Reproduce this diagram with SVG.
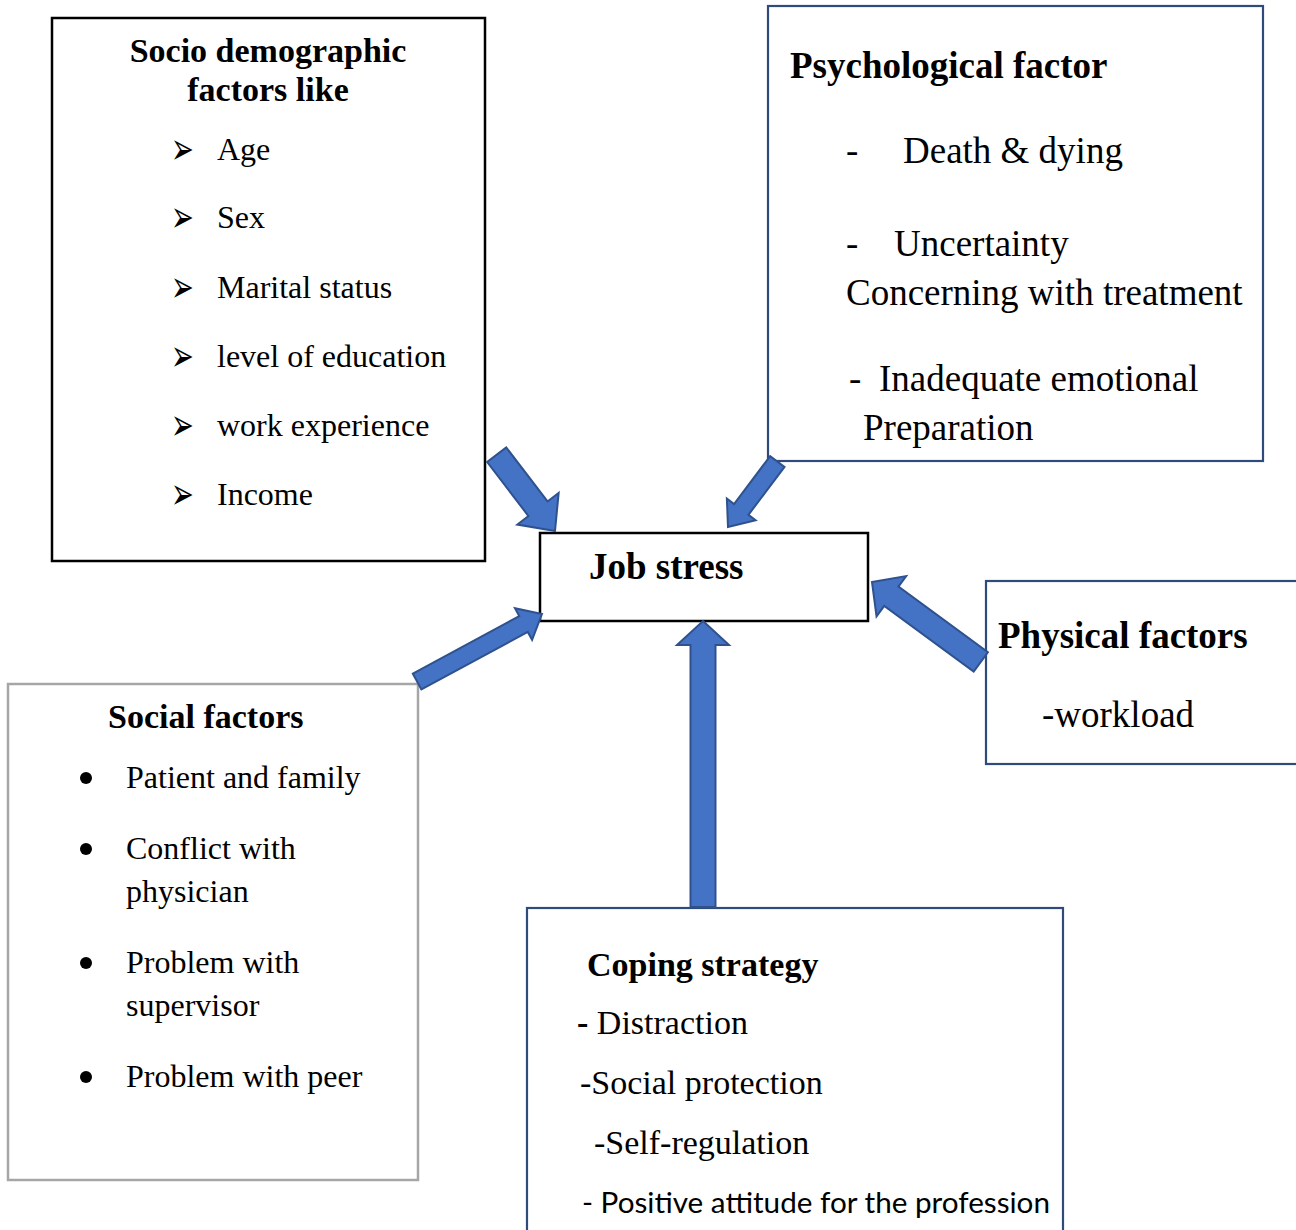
<svg xmlns="http://www.w3.org/2000/svg" width="1296" height="1230" viewBox="0 0 1296 1230">
  <style>
    .box { fill: #ffffff; }
    .black { stroke: #000000; stroke-width: 2.5; }
    .blue { stroke: #2F4B7C; stroke-width: 2.2; }
    .grey { stroke: #A6A6A6; stroke-width: 2.5; }
    .t { font-family: "Liberation Serif", "Times New Roman", serif; fill: #000000; }
    .b34 { font-size: 34px; font-weight: bold; }
    .b37 { font-size: 37px; font-weight: bold; }
    .r32 { font-size: 32px; }
    .r34 { font-size: 34px; }
    .r37 { font-size: 37px; }
    .mark { font-family: "DejaVu Sans", sans-serif; font-size: 32px; fill: #000000; }
    .dot { fill: #000000; }
    .sans { font-family: Lato, "Open Sans", sans-serif; font-size: 28px; fill: #000000; }
    .arrow { fill: #4472C4; stroke: #2F528F; stroke-width: 2; stroke-linejoin: miter; }
  </style>

  <rect width="1296" height="1230" fill="#ffffff"/>

  <!-- Socio-demographic factors -->
  <g id="socio-demographic">
    <rect class="box black" x="52" y="18" width="433" height="543"/>
    <text class="t b34" x="268" y="62" text-anchor="middle">Socio demographic</text>
    <text class="t b34" x="268" y="101" text-anchor="middle">factors like</text>
    <!-- list markers, stretched a little taller than the font draws them -->
    <g class="mark">
      <text transform="translate(171,164) scale(0.85,1.4)">➢</text>
      <text transform="translate(171,232) scale(0.85,1.4)">➢</text>
      <text transform="translate(171,302) scale(0.85,1.4)">➢</text>
      <text transform="translate(171,371) scale(0.85,1.4)">➢</text>
      <text transform="translate(171,440) scale(0.85,1.4)">➢</text>
      <text transform="translate(171,509) scale(0.85,1.4)">➢</text>
    </g>
    <text class="t r32" x="217" y="160">Age</text>
    <text class="t r32" x="217" y="228">Sex</text>
    <text class="t r32" x="217" y="298">Marital status</text>
    <text class="t r32" x="217" y="367">level of education</text>
    <text class="t r32" x="217" y="436">work experience</text>
    <text class="t r32" x="217" y="505">Income</text>
  </g>

  <!-- Psychological factor -->
  <g id="psychological">
    <rect class="box blue" x="768" y="6" width="495" height="455"/>
    <text class="t b37" x="790" y="78">Psychological factor</text>
    <text class="t r37" x="846" y="163">-</text>
    <text class="t r37" x="903" y="163">Death &amp; dying</text>
    <text class="t r37" x="846" y="256">-</text>
    <text class="t r37" x="894" y="256">Uncertainty</text>
    <text class="t r37" x="846" y="305">Concerning with treatment</text>
    <text class="t r37" x="849" y="391">-</text>
    <text class="t r37" x="879" y="391">Inadequate emotional</text>
    <text class="t r37" x="863" y="440">Preparation</text>
  </g>

  <!-- Job stress -->
  <g id="job-stress">
    <rect class="box black" x="540" y="533" width="328" height="88"/>
    <text class="t b37" x="589" y="579">Job stress</text>
  </g>

  <!-- Physical factors -->
  <g id="physical">
    <rect class="box blue" x="986" y="581" width="330" height="183"/>
    <text class="t b37" x="998" y="648">Physical factors</text>
    <text class="t r37" x="1042" y="727">-workload</text>
  </g>

  <!-- Social factors -->
  <g id="social">
    <rect class="box grey" x="8" y="684" width="410" height="496"/>
    <text class="t b34" x="108" y="728">Social factors</text>
    <circle class="dot" cx="86" cy="778" r="6"/>
    <circle class="dot" cx="86" cy="849" r="6"/>
    <circle class="dot" cx="86" cy="963" r="6"/>
    <circle class="dot" cx="86" cy="1077" r="6"/>
    <text class="t r32" x="126" y="788">Patient and family</text>
    <text class="t r32" x="126" y="859">Conflict with</text>
    <text class="t r32" x="126" y="902">physician</text>
    <text class="t r32" x="126" y="973">Problem with</text>
    <text class="t r32" x="126" y="1016">supervisor</text>
    <text class="t r32" x="126" y="1087">Problem with peer</text>
  </g>

  <!-- Coping strategy -->
  <g id="coping">
    <rect class="box blue" x="527" y="908" width="536" height="340"/>
    <text class="t b34" x="587" y="976">Coping strategy</text>
    <text class="t r34" x="577" y="1034"><tspan font-weight="bold">-</tspan> Distraction</text>
    <text class="t r34" x="580" y="1094">-Social protection</text>
    <text class="t r34" x="594" y="1154">-Self-regulation</text>
    <text class="sans" x="582" y="1213" textLength="468" lengthAdjust="spacingAndGlyphs">- Positive attitude for the profession</text>
  </g>

  <!-- Block arrows, tip at the origin pointing along +x -->
  <defs>
    <polygon id="arrow-a" points="0,0 -28,26 -28,12 -96,12 -96,-12 -28,-12 -28,-26"/>
    <polygon id="arrow-b" points="0,0 -22,18 -22,9 -82,9 -82,-9 -22,-9 -22,-18"/>
    <polygon id="arrow-c" points="0,0 -21,18 -21,9 -142,9 -142,-9 -21,-9 -21,-18"/>
    <polygon id="arrow-d" points="0,0 -24,25 -24,12 -135,12 -135,-12 -24,-12 -24,-25"/>
    <polygon id="arrow-e" points="0,0 -24,26 -24,12.5 -286,12.5 -286,-12.5 -24,-12.5 -24,-26"/>
  </defs>
  <g id="connectors">
    <use href="#arrow-a" class="arrow" transform="translate(555,531) rotate(52.6)"/>
    <use href="#arrow-b" class="arrow" transform="translate(728,527) rotate(127)"/>
    <use href="#arrow-c" class="arrow" transform="translate(542,614) rotate(-28.4)"/>
    <use href="#arrow-d" class="arrow" transform="translate(872,582) rotate(216.3)"/>
    <use href="#arrow-e" class="arrow" transform="translate(703,621) rotate(-90)"/>
  </g>
</svg>
